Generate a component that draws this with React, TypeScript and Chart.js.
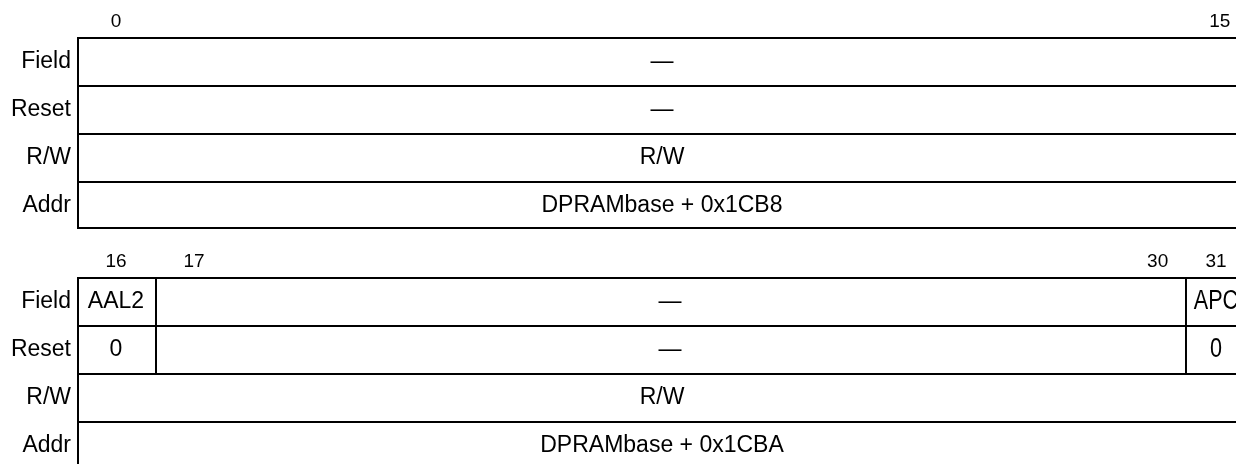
import React, { useEffect, useRef } from "react";
import { Chart, registerables } from "chart.js";

Chart.register(...registerables);

// ---------- data ----------
const rowLabels = ["Field", "Reset", "R/W", "Addr"];

const reg0FieldNames = ["—"];
const reg0FieldFirstBit = [0];
const reg0FieldLastBit = [15];
const reg0ResetValues = ["—"];

const reg1FieldNames = ["AAL2", "—", "APC"];
const reg1FieldFirstBit = [16, 17, 31];
const reg1FieldLastBit = [16, 30, 31];
const reg1ResetValues = ["0", "—", "0"];

const accessTypes = ["R/W", "R/W"];
const addresses = ["DPRAMbase + 0x1CB8", "DPRAMbase + 0x1CBA"];

// ---------- layout (column widths in table units, row offsets) ----------
const fieldColumnWidths = [[15], [1, 13.205, 0.795]];
const registerRowOffsets = [0, 5];
const TABLE_WIDTH = 15;
const X_MIN = -77 / 78;
const X_MAX = (1236 - 77) / 78;
const Y_MIN = -61 / 48;
const Y_MAX = (464 - 61) / 48;

const FONT = '"Liberation Sans", Arial, Helvetica, sans-serif';
const NARROW_SCALE = 0.8;

type Cell = { x: [number, number]; y: number };
type CellInfo = { text: string; narrow: boolean; last: boolean };

export default function App() {
  const ref = useRef<HTMLCanvasElement>(null);

  useEffect(() => {
    document.body.style.margin = "0";
    const canvas = ref.current;
    if (!canvas) return;

    const registers = [
      {
        names: reg0FieldNames,
        first: reg0FieldFirstBit,
        last: reg0FieldLastBit,
        reset: reg0ResetValues,
        access: accessTypes[0],
        addr: addresses[0],
      },
      {
        names: reg1FieldNames,
        first: reg1FieldFirstBit,
        last: reg1FieldLastBit,
        reset: reg1ResetValues,
        access: accessTypes[1],
        addr: addresses[1],
      },
    ];

    const cells: Cell[] = [];
    const infos: CellInfo[] = [];
    const headers: { text: string; x: number; y: number }[] = [];
    const sideLabels: { text: string; y: number }[] = [];
    const rowValues: number[] = [];

    registers.forEach((reg, ri) => {
      const off = registerRowOffsets[ri];
      const widths = fieldColumnWidths[ri];
      let start = 0;
      reg.names.forEach((name, fi) => {
        const end = start + widths[fi];
        const narrow = widths[fi] < 1;
        cells.push({ x: [start, end], y: off });
        infos.push({ text: name, narrow, last: false });
        cells.push({ x: [start, end], y: off + 1 });
        infos.push({ text: reg.reset[fi], narrow, last: false });
        const fb = reg.first[fi];
        const lb = reg.last[fi];
        if (fb === lb) {
          headers.push({ text: String(fb), x: (start + end) / 2, y: off - 0.82 });
        } else {
          headers.push({ text: String(fb), x: start + 0.5, y: off - 0.82 });
          headers.push({ text: String(lb), x: end - 0.35, y: off - 0.82 });
        }
        start = end;
      });
      cells.push({ x: [0, TABLE_WIDTH], y: off + 2 });
      infos.push({ text: reg.access, narrow: false, last: false });
      cells.push({ x: [0, TABLE_WIDTH], y: off + 3 });
      infos.push({ text: reg.addr, narrow: false, last: true });
      rowLabels.forEach((l, i) => {
        sideLabels.push({ text: l, y: off + i });
        rowValues.push(off + i);
      });
    });

    const textPlugin = {
      id: "registerText",
      afterDatasetsDraw(chart: any) {
        const ctx = chart.ctx as CanvasRenderingContext2D;
        const xs = chart.scales.x;
        const ys = chart.scales.y;
        const meta = chart.getDatasetMeta(0);
        ctx.save();
        ctx.fillStyle = "#000";
        ctx.textBaseline = "middle";
        ctx.textAlign = "center";
        meta.data.forEach((el: any, i: number) => {
          const p = el.getProps(["x", "base", "y"], true);
          const info = infos[i];
          const cx = (p.x + p.base) / 2;
          if (info.narrow) {
            ctx.save();
            ctx.translate(cx, p.y + 1);
            ctx.scale(NARROW_SCALE, 1);
            ctx.font = `27px ${FONT}`;
            ctx.fillText(info.text, 0, 0);
            ctx.restore();
          } else {
            ctx.font = `23px ${FONT}`;
            ctx.fillText(info.text, cx, p.y + 1);
          }
        });
        ctx.font = `19px ${FONT}`;
        headers.forEach((h) => {
          ctx.fillText(h.text, xs.getPixelForValue(h.x), ys.getPixelForValue(h.y));
        });
        ctx.font = `23px ${FONT}`;
        ctx.textAlign = "right";
        const lx = xs.getPixelForValue(0) - 6;
        sideLabels.forEach((s) => {
          ctx.fillText(s.text, lx, ys.getPixelForValue(s.y) + 1);
        });
        ctx.restore();
      },
    };

    const chart = new Chart(canvas, {
      type: "bar",
      data: {
        datasets: [
          {
            data: cells as any,
            backgroundColor: "#ffffff",
            borderColor: "#000000",
            borderSkipped: false,
            inflateAmount: 0,
            barPercentage: 1,
            categoryPercentage: 1,
            grouped: false,
            borderWidth: (c: any) => ({
              top: 2,
              left: 2,
              right: 0,
              bottom: infos[c.dataIndex] && infos[c.dataIndex].last ? 2 : 0,
            }),
          } as any,
        ],
      },
      options: {
        animation: false,
        responsive: false,
        indexAxis: "y",
        layout: { padding: 0 },
        events: [],
        plugins: {
          legend: { display: false },
          tooltip: { enabled: false },
          title: { display: false },
        },
        scales: {
          x: { type: "linear", min: X_MIN, max: X_MAX, display: false, offset: false },
          y: {
            type: "linear",
            min: Y_MIN,
            max: Y_MAX,
            reverse: true,
            display: false,
            offset: false,
            grid: { offset: false },
            afterBuildTicks: (s: any) => {
              s.ticks = rowValues.map((v) => ({ value: v }));
            },
          } as any,
        },
      },
      plugins: [textPlugin],
    });
    return () => chart.destroy();
  }, []);

  return (
    <div style={{ position: "absolute", left: 0, top: 0, width: 1236, height: 464, background: "#fff" }}>
      <canvas ref={ref} width={1236} height={464} style={{ display: "block" }} />
    </div>
  );
}
